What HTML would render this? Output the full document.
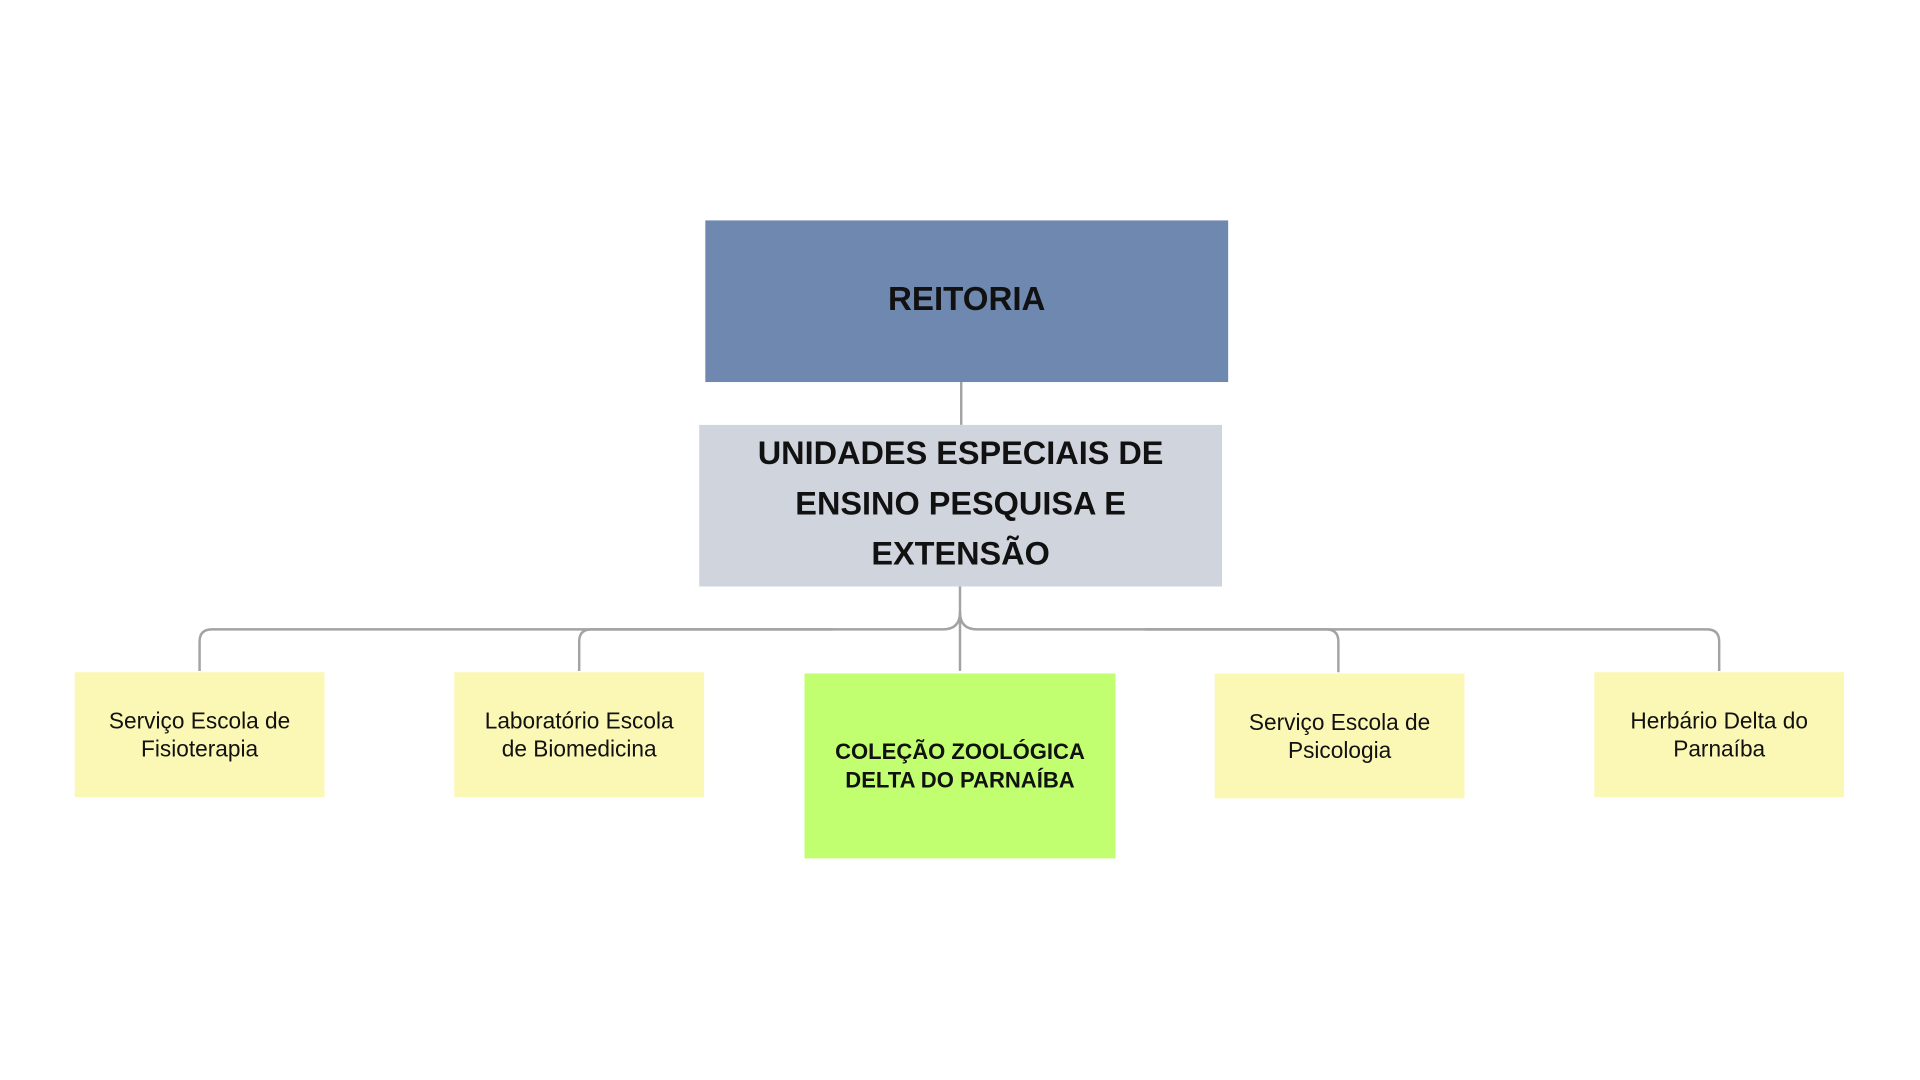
<!DOCTYPE html>
<html><head><meta charset="utf-8"><style>
html,body{margin:0;padding:0;background:#fff;width:1920px;height:1080px;overflow:hidden}
#s{position:absolute;left:0;top:0;width:1568px;height:882px;transform:scale(1.22449);transform-origin:0 0;font-family:"Liberation Sans",sans-serif}
.b{position:absolute;display:flex;align-items:center;justify-content:center;text-align:center;color:#111}
.y{background:#fbf7b4;font-size:18.5px;line-height:23px;width:204px;height:102px}
</style></head><body><div id="s">
<svg width="1568" height="882" style="position:absolute;left:0;top:0">
<g fill="none" stroke="#a3a3a3" stroke-width="2">
<line x1="785" y1="312" x2="785" y2="347"/>
<line x1="784" y1="479" x2="784" y2="548"/>
<path d="M784 500 Q784 514 770 514 L173 514 Q163 514 163 524 L163 548"/>
<path d="M784 500 Q784 514 798 514 L1394 514 Q1404 514 1404 524 L1404 548"/>
<path d="M680 514 L483 514 Q473 514 473 524 L473 548"/>
<path d="M935 514 L1083 514 Q1093 514 1093 524 L1093 549"/>
</g></svg>
<div class="b" style="left:576px;top:180px;width:427px;height:132px;background:#6e88b0;font-weight:bold;font-size:27px;padding-bottom:3px;box-sizing:border-box">REITORIA</div>
<div class="b" style="left:571px;top:347px;width:427px;height:132px;background:#d0d5dd;font-weight:bold;font-size:26.5px;line-height:41px;padding-bottom:4px;box-sizing:border-box">UNIDADES ESPECIAIS DE<br>ENSINO PESQUISA E<br>EXTENSÃO</div>
<div class="b y" style="left:61px;top:549px;padding-bottom:0px;box-sizing:border-box">Serviço Escola de<br>Fisioterapia</div>
<div class="b y" style="left:371px;top:549px;padding-bottom:0px;box-sizing:border-box">Laboratório Escola<br>de Biomedicina</div>
<div class="b" style="left:657px;top:550px;width:254px;height:151px;background:#c2ff70;font-weight:bold;font-size:18px;line-height:23px;padding-bottom:0px;box-sizing:border-box">COLEÇÃO ZOOLÓGICA<br>DELTA DO PARNAÍBA</div>
<div class="b y" style="left:992px;top:550px;padding-bottom:0px;box-sizing:border-box">Serviço Escola de<br>Psicologia</div>
<div class="b y" style="left:1302px;top:549px;padding-bottom:0px;box-sizing:border-box">Herbário Delta do<br>Parnaíba</div>
</div></body></html>
